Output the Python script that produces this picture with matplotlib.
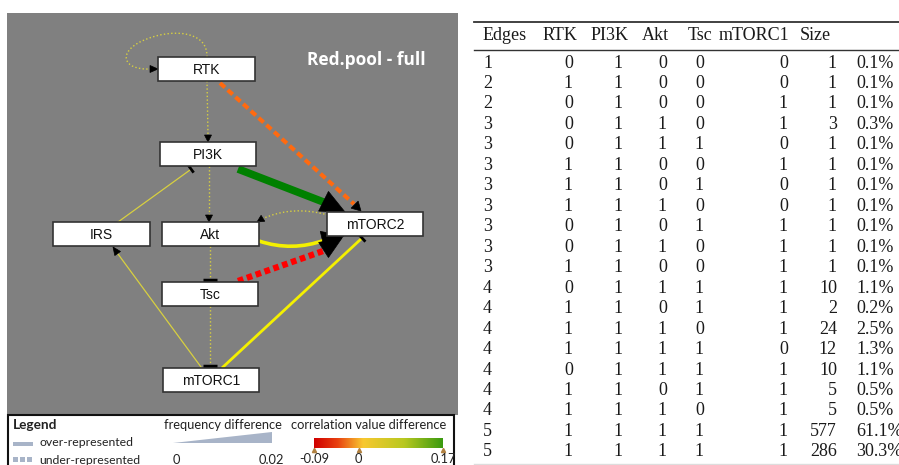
import numpy as np
import matplotlib.pyplot as plt
from matplotlib.patches import Rectangle, Polygon, PathPatch
from matplotlib.path import Path
from matplotlib.colors import LinearSegmentedColormap

# table values
edges = [1, 2, 2, 3, 3, 3, 3, 3, 3, 3, 3, 4, 4, 4, 4, 4, 4, 4, 5, 5]
rtk = [0, 1, 0, 0, 0, 1, 1, 1, 0, 0, 1, 0, 1, 1, 1, 0, 1, 1, 1, 1]
pi3k = [1, 1, 1, 1, 1, 1, 1, 1, 1, 1, 1, 1, 1, 1, 1, 1, 1, 1, 1, 1]
akt = [0, 0, 0, 1, 1, 0, 0, 1, 0, 1, 0, 1, 0, 1, 1, 1, 0, 1, 1, 1]
tsc = [0, 0, 0, 0, 1, 0, 1, 0, 1, 0, 0, 1, 1, 0, 1, 1, 1, 0, 1, 1]
mtorc1 = [0, 0, 1, 1, 0, 1, 0, 0, 1, 1, 1, 1, 1, 1, 0, 1, 1, 1, 1, 1]
size = [1, 1, 1, 3, 1, 1, 1, 1, 1, 1, 1, 10, 2, 24, 12, 10, 5, 5, 577, 286]
pct = [0.1, 0.1, 0.1, 0.3, 0.1, 0.1, 0.1, 0.1, 0.1, 0.1, 0.1, 1.1, 0.2, 2.5,
       1.3, 1.1, 0.5, 0.5, 61.1, 30.3]
headers = ['Edges', 'RTK', 'PI3K', 'Akt', 'Tsc', 'mTORC1', 'Size']

# network nodes (left, top, right, bottom in pixels)
nodes = {
    'RTK': (158, 57, 255, 81),
    'PI3K': (160, 142, 256, 166),
    'IRS': (53, 222, 150, 246),
    'Akt': (162, 222, 259, 246),
    'mTORC2': (327, 212, 423, 236),
    'Tsc': (162, 282, 258, 306),
    'mTORC1': (163, 368, 259, 392),
}

# legend scales
freq_range = [0, 0.02]
corr_ticks = [-0.09, 0, 0.17]

YEL_THIN = '#d8d040'
YEL = '#f4f000'

fig = plt.figure(figsize=(8.99, 4.65), dpi=100)
ax = fig.add_axes([0, 0, 1, 1])
ax.set_xlim(0, 899)
ax.set_ylim(465, 0)
ax.axis('off')


def head(tip, frm, length, width, color='black', z=5):
    tip = np.array(tip, float)
    d = tip - np.array(frm, float)
    d /= np.hypot(*d)
    n = np.array([-d[1], d[0]])
    base = tip - d * length
    ax.add_patch(Polygon([tip, base + n * width / 2, base - n * width / 2],
                         closed=True, fc=color, ec=color, lw=0.5, zorder=z))


def tee(tip, frm, width, lw, color='black'):
    tip = np.array(tip, float)
    d = tip - np.array(frm, float)
    d /= np.hypot(*d)
    n = np.array([-d[1], d[0]])
    p1, p2 = tip + n * width / 2, tip - n * width / 2
    ax.plot([p1[0], p2[0]], [p1[1], p2[1]], color=color, lw=lw,
            solid_capstyle='butt', zorder=5)


def curve(pts, codes, **kw):
    ax.add_patch(PathPatch(Path(pts, codes), fc='none', zorder=3, **kw))


# gray panel
ax.add_patch(Rectangle((7, 13), 451, 402, fc='#808080', ec='none', zorder=0))
ax.text(366, 60, 'Red.pool - full', color='white', fontsize=12.5,
        fontweight='bold', family='Open Sans', ha='center', va='center')

# edges
# RTK self loop
curve([(207, 57), (208, 30), (170, 28), (142, 41), (118, 52), (122, 70), (150, 69)],
      [Path.MOVETO, Path.CURVE4, Path.CURVE4, Path.CURVE4, Path.CURVE4,
       Path.CURVE4, Path.CURVE4], ec=YEL_THIN, lw=1, ls=':')
head((158, 69), (150, 69), 8, 7)
# RTK -> PI3K
ax.plot([207, 208], [81, 136], color=YEL_THIN, lw=1, ls=':', zorder=3)
head((208, 142), (208, 134), 7, 7)
# RTK -> mTORC2 (orange dashed)
ax.plot([220, 354], [83, 204], color='#ff6a10', lw=3, dashes=(1.6, 0.9),
        zorder=3)
head((361, 211), (354, 204), 9, 10)
# PI3K -> mTORC2 (green)
ax.plot([238, 326], [169, 203], color='#008000', lw=5.5,
        solid_capstyle='butt', zorder=3)
head((345, 212), (323, 201), 24, 22)
# PI3K -> Akt
ax.plot([209, 209], [166, 215], color=YEL_THIN, lw=1, ls=':', zorder=3)
head((209, 222), (209, 214), 7, 7)
# IRS -| PI3K
ax.plot([118, 190], [222, 170], color=YEL_THIN, lw=0.9, zorder=3)
tee((191, 169), (118, 222), 9, 2)
# mTORC2 -> Akt (dotted arc)
curve([(328, 215), (292, 205), (262, 219)],
      [Path.MOVETO, Path.CURVE3, Path.CURVE3], ec=YEL_THIN, lw=1, ls=':')
head((257, 222), (265, 217), 7, 7)
# Akt -> mTORC2 (thick yellow)
curve([(259, 241), (292, 252), (325, 240)],
      [Path.MOVETO, Path.CURVE3, Path.CURVE3], ec=YEL, lw=2.6)
head((344, 236), (323, 241), 22, 20)
# Tsc -> mTORC2 (red dotted)
ax.plot([238, 326], [281, 250], color='#ff0000', lw=4.5, dashes=(0.9, 0.6),
        zorder=3)
head((342, 238), (322, 251), 22, 18)
# Akt -| Tsc
ax.plot([210, 210], [246, 279], color=YEL_THIN, lw=1, ls=':', zorder=3)
tee((210, 280), (210, 270), 14, 2.5)
# Tsc -| mTORC1
ax.plot([210, 210], [306, 365], color=YEL_THIN, lw=1, ls=':', zorder=3)
tee((210, 366), (210, 356), 14, 2.5)
# mTORC1 -> IRS
ax.plot([201, 118], [367, 254], color=YEL_THIN, lw=0.9, zorder=3)
head((113, 247), (118, 254), 8, 7)
# mTORC1 -| mTORC2
ax.plot([223, 361], [367, 239], color=YEL, lw=2, zorder=3)
tee((362, 238), (223, 367), 10, 2)

# node boxes
for name, (l, t, r, b) in nodes.items():
    ax.add_patch(Rectangle((l, t), r - l, b - t, fc='white', ec='#333333',
                           lw=1.2, zorder=6))
    ax.text((l + r) / 2, (t + b) / 2 + 0.5, name, fontsize=10,
            family='Liberation Sans', ha='center', va='center', zorder=7,
            color='#111111')

# legend box
ax.add_patch(Rectangle((7.5, 414.5), 446, 60, fc='white', ec='#111111',
                       lw=1.5, zorder=1))
lfont = dict(family='Lato', color='#222222', va='center')
ax.text(13, 425, 'Legend', fontsize=9.8, fontweight='bold', **lfont)
ax.add_patch(Rectangle((13, 442), 20, 4, fc='#a8b4c8', ec='none', zorder=2))
ax.text(39, 442, 'over-represented', fontsize=8.8, **lfont)
for sx in [13, 20, 27]:
    ax.add_patch(Rectangle((sx, 457), 5, 5, fc='#a8b4c8', ec='none', zorder=2))
ax.text(39, 460, 'under-represented', fontsize=8.8, **lfont)

ax.text(164, 425, 'frequency difference', fontsize=9.3, **lfont)
ax.add_patch(Polygon([(173, 443), (272, 432), (272, 443)], closed=True,
                     fc='#a8b4c8', ec='none', zorder=2))
f0, f1 = 173, 272
ax.text(f0, 460, '%g' % freq_range[0], fontsize=9.3, ha='left', **lfont)
ax.text(f1 + 12, 460, '%g' % freq_range[1], fontsize=9.3, ha='right', **lfont)

ax.text(291, 425, 'correlation value difference', fontsize=9.3, **lfont)
cmap = LinearSegmentedColormap.from_list(
    'corr', [(0, '#d00000'), (0.18, '#e84010'), (0.38, '#f8c830'),
             (0.7, '#b8c820'), (1, '#3a9a10')])
c0, c1 = 314, 443
grad = np.linspace(0, 1, 256).reshape(1, -1)
ax.imshow(grad, cmap=cmap, extent=(c0, c1, 448, 438), aspect='auto', zorder=2)
for v in corr_ticks:
    x = c0 + (v - corr_ticks[0]) / (corr_ticks[-1] - corr_ticks[0]) * (c1 - c0)
    ax.plot([x], [450], marker='^', ms=3, color='#b08040', zorder=3)
    ax.text(x, 459, '%g' % v, fontsize=9.3, ha='center', **lfont)
ax.set_xlim(0, 899)
ax.set_ylim(465, 0)

# table
rule = '#333333'
ax.plot([474, 899], [22, 22], color=rule, lw=1.3)
ax.plot([474, 899], [50, 50], color=rule, lw=1.0)
ax.plot([474, 899], [464, 464], color='#dddddd', lw=1.0)
tfont = dict(family='Liberation Serif', fontsize=13, color='#1a1a1a',
             va='center')
head_x = [483, 543, 591, 642, 688, 719, 800]
for h, x in zip(headers, head_x):
    ax.text(x, 36, h, ha='left', **tfont)
col_right = [573, 623, 667, 704, 788, 837]
y0, dy = 63, 20.47
for i in range(len(edges)):
    y = y0 + i * dy
    ax.text(483, y, str(edges[i]), ha='left', **tfont)
    vals = [rtk[i], pi3k[i], akt[i], tsc[i], mtorc1[i], size[i]]
    for v, x in zip(vals, col_right):
        ax.text(x, y, str(v), ha='right', **tfont)
    ax.text(856, y, '%.1f%%' % pct[i], ha='left', **tfont)

fig.savefig('out.png', dpi=100)
